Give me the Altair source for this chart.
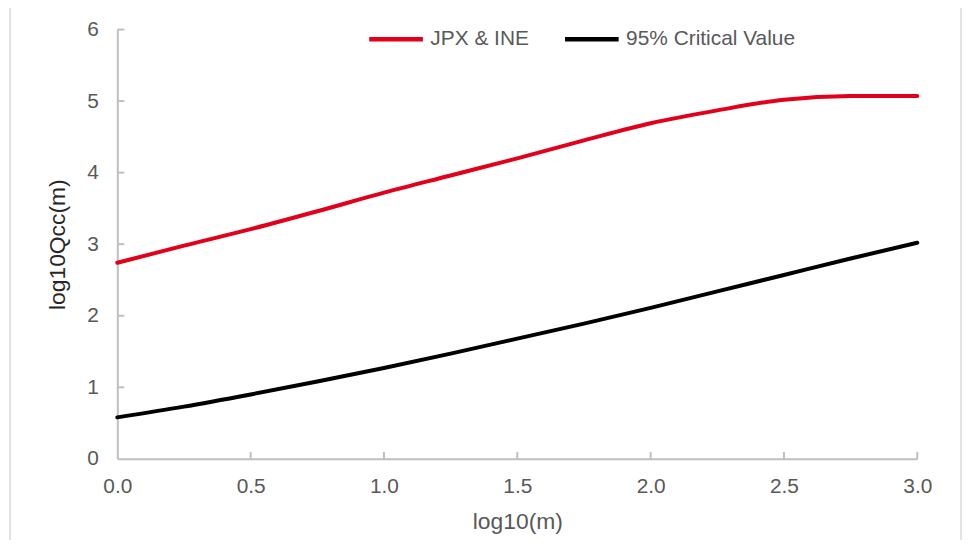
import altair as alt
import pandas as pd

# data
x_vals = [0.0, 0.25, 0.5, 0.75, 1.0, 1.25, 1.5, 1.75, 2.0, 2.25, 2.5, 2.75, 3.0]
jpx_ine = [2.74, 2.98, 3.21, 3.46, 3.72, 3.96, 4.20, 4.45, 4.69, 4.87, 5.02, 5.07, 5.07]
critical = [0.58, 0.73, 0.90, 1.08, 1.27, 1.47, 1.68, 1.89, 2.11, 2.34, 2.57, 2.80, 3.02]
series_names = ["JPX & INE", "95% Critical Value"]
series_colors = ["#E2001A", "#000000"]
x_ticks = [0.0, 0.5, 1.0, 1.5, 2.0, 2.5, 3.0]
y_ticks = [0, 1, 2, 3, 4, 5, 6]

rows = []
for xv, a, b in zip(x_vals, jpx_ine, critical):
    rows.append({"x": xv, "y": a, "series": series_names[0]})
    rows.append({"x": xv, "y": b, "series": series_names[1]})
df = pd.DataFrame(rows)

FONT = "Liberation Sans"
GRAY = "#595959"
AXC = "#bfbfbf"

xscale = alt.Scale(domain=[0, 3], nice=False)
yscale = alt.Scale(domain=[0, 6], nice=False)

xaxis = alt.Axis(
    title="log10(m)", values=x_ticks, format=".1f", grid=False, ticks=False, labelFlush=False,
    domainColor=AXC, domainWidth=2, labelFontSize=21, labelColor=GRAY, labelPadding=17,
    titleFontSize=23, titleColor=GRAY, titleFontWeight="normal", titlePadding=14,
    labelFont=FONT, titleFont=FONT)
yaxis = alt.Axis(
    title="log10Qcc(m)", values=y_ticks, format="d", grid=False, ticks=False, labelFlush=False,
    domainColor=AXC, domainWidth=2, labelFontSize=21, labelColor=GRAY, labelPadding=19,
    titleFontSize=23, titleColor="#262626", titleFontWeight="normal", titlePadding=17,
    labelFont=FONT, titleFont=FONT)

lines = alt.Chart(df).mark_line(strokeWidth=4, strokeCap="round", interpolate="monotone").encode(
    x=alt.X("x:Q", scale=xscale, axis=xaxis),
    y=alt.Y("y:Q", scale=yscale, axis=yaxis),
    color=alt.Color("series:N", scale=alt.Scale(domain=series_names, range=series_colors),
                    legend=alt.Legend(title=None, orient="none", legendX=251, legendY=-20,
                                      direction="horizontal", symbolType="stroke",
                                      symbolStrokeWidth=4.5, symbolSize=2916,
                                      labelFontSize=21, labelColor=GRAY, labelFont=FONT,
                                      labelLimit=400, labelOffset=5, columnPadding=26)),
    order=alt.Order("x:Q"),
)

# inward tick marks
ytick_df = pd.DataFrame({"y": y_ticks[1:]})
ytick_layer = alt.Chart(ytick_df).mark_rule(color=AXC, strokeWidth=2).encode(
    y=alt.Y("y:Q", scale=yscale, axis=yaxis),
    x=alt.value(0), x2=alt.value(7),
)
xtick_df = pd.DataFrame({"x": x_ticks[1:]})
xtick_layer = alt.Chart(xtick_df).mark_rule(color=AXC, strokeWidth=2).encode(
    x=alt.X("x:Q", scale=xscale, axis=xaxis),
    y=alt.value(432), y2=alt.value(425),
)

frame = alt.Chart(pd.DataFrame({"a": [0]})).mark_rect(filled=False, stroke="#d9d9d9", strokeWidth=1.5).encode(
    x=alt.value(-108), x2=alt.value(849), y=alt.value(-24), y2=alt.value(700),
)

chart = alt.layer(frame, ytick_layer, xtick_layer, lines).properties(
    width=805, height=432,
    autosize=alt.AutoSizeParams(type="none"),
    padding={"left": 110, "top": 20, "right": 46, "bottom": 80},
    background="white",
).configure_view(stroke=None)

chart.save("out.html", embed_options={"renderer": "svg", "actions": False})
